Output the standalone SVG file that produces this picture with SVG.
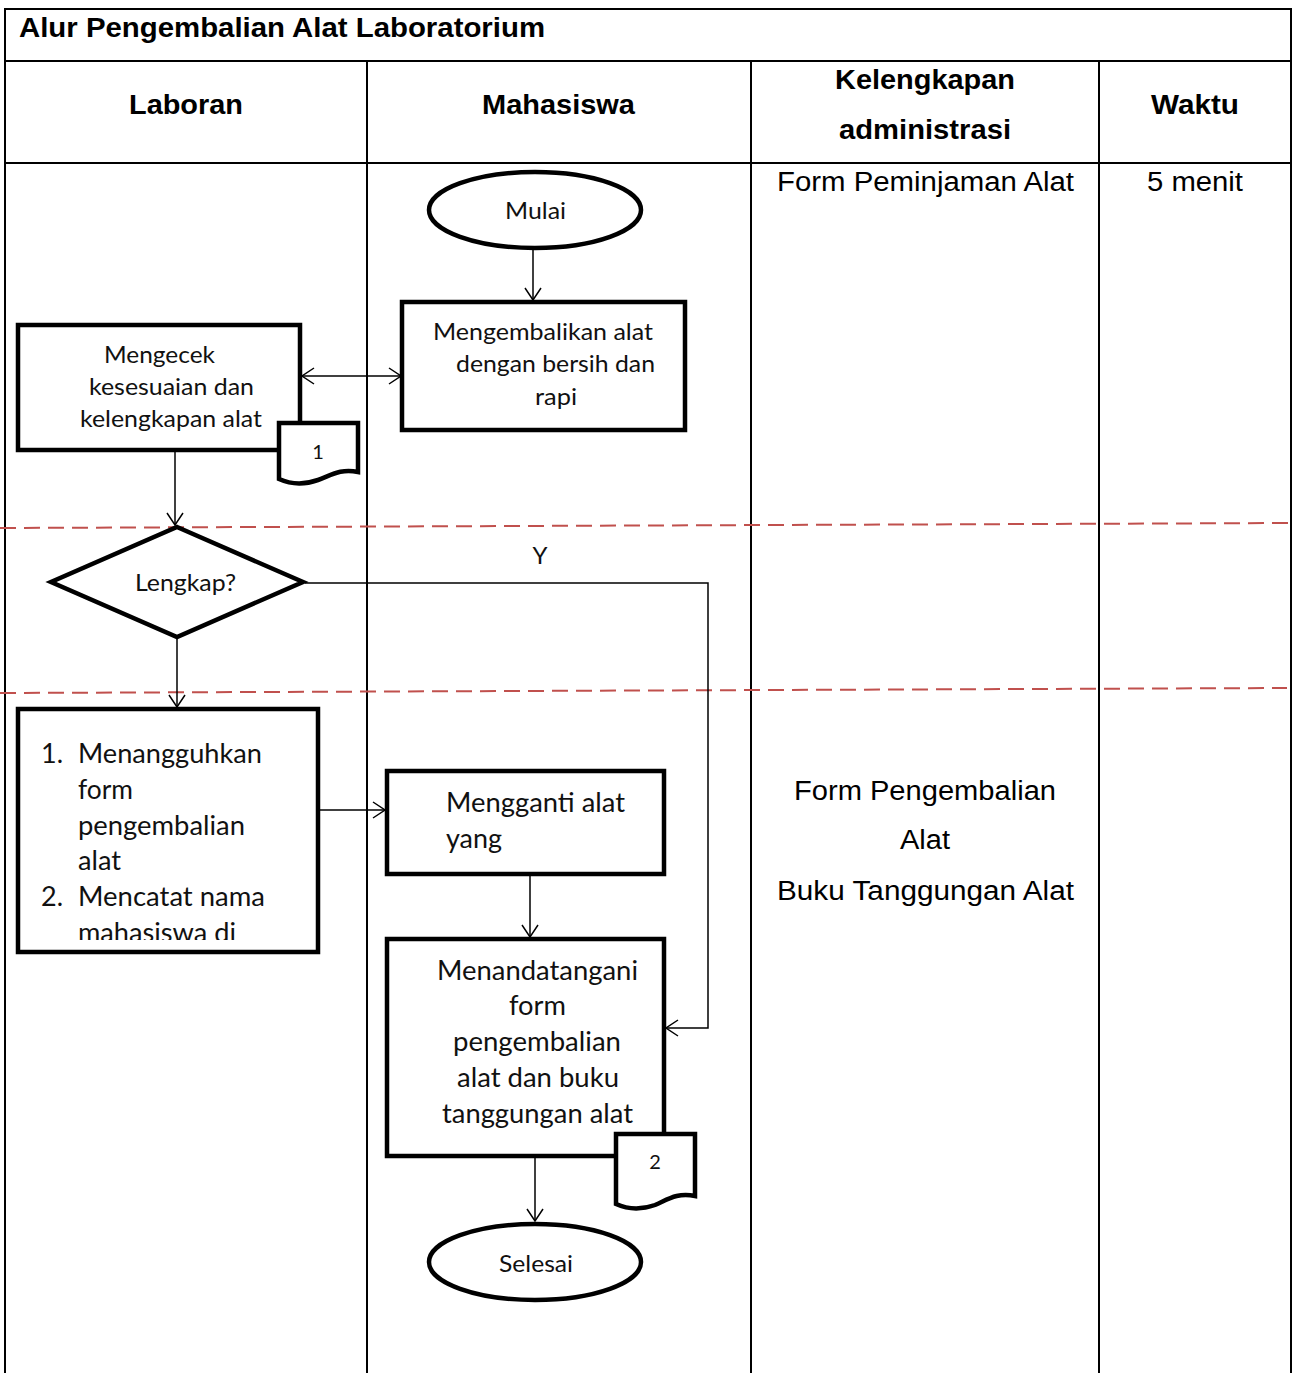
<svg xmlns="http://www.w3.org/2000/svg" width="1300" height="1373" viewBox="0 0 1300 1373">
<style>
.grid{stroke:#000;stroke-width:2;fill:none}
.hdr{font-family:"Liberation Sans",Arial,sans-serif;font-weight:bold;font-size:27px;fill:#000}
.cell{font-family:"Liberation Sans",Arial,sans-serif;font-size:27px;fill:#000}
.shape{fill:#fff;stroke:#000;stroke-width:4.5}
.lbl{font-family:"Lato","Open Sans",sans-serif;font-size:24px;fill:#111}
.lbl2{font-family:"Lato","Open Sans",sans-serif;font-size:27px;fill:#111}
.conn{stroke:#000;stroke-width:1.5;fill:none}
.sep{stroke:#C0504D;stroke-width:2;stroke-dasharray:16,8;fill:none}
</style>
<defs>
<marker id="arr" markerUnits="userSpaceOnUse" markerWidth="14" markerHeight="20" refX="13" refY="10" orient="auto-start-reverse" viewBox="0 0 14 20">
<path d="M1,2 L13,10 L1,18" fill="none" stroke="#000" stroke-width="1.5"/>
</marker>
<clipPath id="clipList"><rect x="20" y="711" width="296" height="229"/></clipPath>
</defs>
<rect width="1300" height="1373" fill="#fff"/>
<g id="table">
<path class="grid" d="M5,1373 V9 H1291 V1373"/>
<line class="grid" x1="5" y1="61" x2="1291" y2="61"/>
<line class="grid" x1="5" y1="163" x2="1291" y2="163"/>
<line class="grid" x1="367" y1="61" x2="367" y2="1373"/>
<line class="grid" x1="751" y1="61" x2="751" y2="1373"/>
<line class="grid" x1="1099" y1="61" x2="1099" y2="1373"/>
<text class="hdr" x="19" y="37" textLength="526" lengthAdjust="spacingAndGlyphs">Alur Pengembalian Alat Laboratorium</text>
<text class="hdr" x="129" y="114" textLength="114" lengthAdjust="spacingAndGlyphs">Laboran</text>
<text class="hdr" x="482" y="114" textLength="153" lengthAdjust="spacingAndGlyphs">Mahasiswa</text>
<text class="hdr" x="835" y="89" textLength="180" lengthAdjust="spacingAndGlyphs">Kelengkapan</text>
<text class="hdr" x="839" y="139" textLength="172" lengthAdjust="spacingAndGlyphs">administrasi</text>
<text class="hdr" x="1151" y="114" textLength="88" lengthAdjust="spacingAndGlyphs">Waktu</text>
<text class="cell" x="777" y="191" textLength="297" lengthAdjust="spacingAndGlyphs">Form Peminjaman Alat</text>
<text class="cell" x="1147" y="191" textLength="96" lengthAdjust="spacingAndGlyphs">5 menit</text>
<text class="cell" x="794" y="800" textLength="262" lengthAdjust="spacingAndGlyphs">Form Pengembalian</text>
<text class="cell" x="900" y="849" textLength="50" lengthAdjust="spacingAndGlyphs">Alat</text>
<text class="cell" x="777" y="900" textLength="297" lengthAdjust="spacingAndGlyphs">Buku Tanggungan Alat</text>
</g>
<g id="separators">
<line class="sep" x1="0" y1="528" x2="1292" y2="523"/>
<line class="sep" x1="0" y1="693" x2="1287" y2="688"/>
</g>
<g id="connectors">
<line class="conn" x1="533" y1="250" x2="533" y2="300" marker-end="url(#arr)"/>
<line class="conn" x1="302" y1="376" x2="401" y2="376" marker-start="url(#arr)" marker-end="url(#arr)"/>
<line class="conn" x1="175" y1="452" x2="175" y2="525" marker-end="url(#arr)"/>
<polyline class="conn" points="305,583 708,583 708,1028 666,1028" marker-end="url(#arr)"/>
<line class="conn" x1="177" y1="638" x2="177" y2="707" marker-end="url(#arr)"/>
<line class="conn" x1="320" y1="810" x2="385" y2="810" marker-end="url(#arr)"/>
<line class="conn" x1="530" y1="876" x2="530" y2="937" marker-end="url(#arr)"/>
<line class="conn" x1="535" y1="1158" x2="535" y2="1221" marker-end="url(#arr)"/>
<text class="lbl" x="540" y="564" text-anchor="middle">Y</text>
</g>
<g id="mulai">
<ellipse class="shape" cx="535" cy="210" rx="106" ry="38"/>
<text class="lbl" x="505" y="219" textLength="61" lengthAdjust="spacingAndGlyphs">Mulai</text>
</g>
<g id="mengembalikan">
<rect class="shape" x="402" y="302" width="283" height="128"/>
<text class="lbl" x="433" y="340" textLength="220" lengthAdjust="spacingAndGlyphs">Mengembalikan alat</text>
<text class="lbl" x="456" y="372" textLength="199" lengthAdjust="spacingAndGlyphs">dengan bersih dan</text>
<text class="lbl" x="535" y="405" textLength="42" lengthAdjust="spacingAndGlyphs">rapi</text>
</g>
<g id="mengecek">
<rect class="shape" x="18" y="325" width="282" height="125"/>
<text class="lbl" x="104" y="363" textLength="111" lengthAdjust="spacingAndGlyphs">Mengecek</text>
<text class="lbl" x="89" y="395" textLength="165" lengthAdjust="spacingAndGlyphs">kesesuaian dan</text>
<text class="lbl" x="80" y="427" textLength="182" lengthAdjust="spacingAndGlyphs">kelengkapan alat</text>
</g>
<g id="doc1">
<path class="shape" d="M279,423 H358 V472 C340,468 330,476 318,480 C304,485 290,484 279,479 Z"/>
<text class="lbl" x="318" y="459" text-anchor="middle" style="font-size:20px">1</text>
</g>
<g id="lengkap">
<polygon class="shape" points="177,527 303,582 177,637 51,582"/>
<text class="lbl" x="135" y="591" textLength="101" lengthAdjust="spacingAndGlyphs">Lengkap?</text>
</g>
<g id="menangguhkan">
<rect class="shape" x="18" y="709" width="300" height="243"/>
<g clip-path="url(#clipList)">
<text class="lbl2" x="41" y="763">1.</text>
<text class="lbl2" x="78" y="763" textLength="184" lengthAdjust="spacingAndGlyphs">Menangguhkan</text>
<text class="lbl2" x="78" y="799" textLength="55" lengthAdjust="spacingAndGlyphs">form</text>
<text class="lbl2" x="78" y="835" textLength="167" lengthAdjust="spacingAndGlyphs">pengembalian</text>
<text class="lbl2" x="78" y="870" textLength="43" lengthAdjust="spacingAndGlyphs">alat</text>
<text class="lbl2" x="41" y="906">2.</text>
<text class="lbl2" x="78" y="906" textLength="187" lengthAdjust="spacingAndGlyphs">Mencatat nama</text>
<text class="lbl2" x="78" y="942" textLength="158" lengthAdjust="spacingAndGlyphs">mahasiswa di</text>
</g>
</g>
<g id="mengganti">
<rect class="shape" x="387" y="771" width="277" height="103"/>
<text class="lbl2" x="446" y="812" textLength="179" lengthAdjust="spacingAndGlyphs">Mengganti alat</text>
<text class="lbl2" x="446" y="848" textLength="56" lengthAdjust="spacingAndGlyphs">yang</text>
</g>
<g id="menandatangani">
<rect class="shape" x="387" y="939" width="277" height="217"/>
<text class="lbl2" x="437" y="980" textLength="201" lengthAdjust="spacingAndGlyphs">Menandatangani</text>
<text class="lbl2" x="509" y="1015" textLength="57" lengthAdjust="spacingAndGlyphs">form</text>
<text class="lbl2" x="453" y="1051" textLength="168" lengthAdjust="spacingAndGlyphs">pengembalian</text>
<text class="lbl2" x="457" y="1087" textLength="162" lengthAdjust="spacingAndGlyphs">alat dan buku</text>
<text class="lbl2" x="442" y="1123" textLength="191" lengthAdjust="spacingAndGlyphs">tanggungan alat</text>
</g>
<g id="doc2">
<path class="shape" d="M616,1134 H695 V1196 C677,1192 667,1200 655,1205 C641,1210 627,1209 616,1204 Z"/>
<text class="lbl" x="655" y="1169" text-anchor="middle" style="font-size:20px">2</text>
</g>
<g id="selesai">
<ellipse class="shape" cx="535" cy="1262" rx="106" ry="38"/>
<text class="lbl" x="499" y="1272" textLength="74" lengthAdjust="spacingAndGlyphs">Selesai</text>
</g>
</svg>
